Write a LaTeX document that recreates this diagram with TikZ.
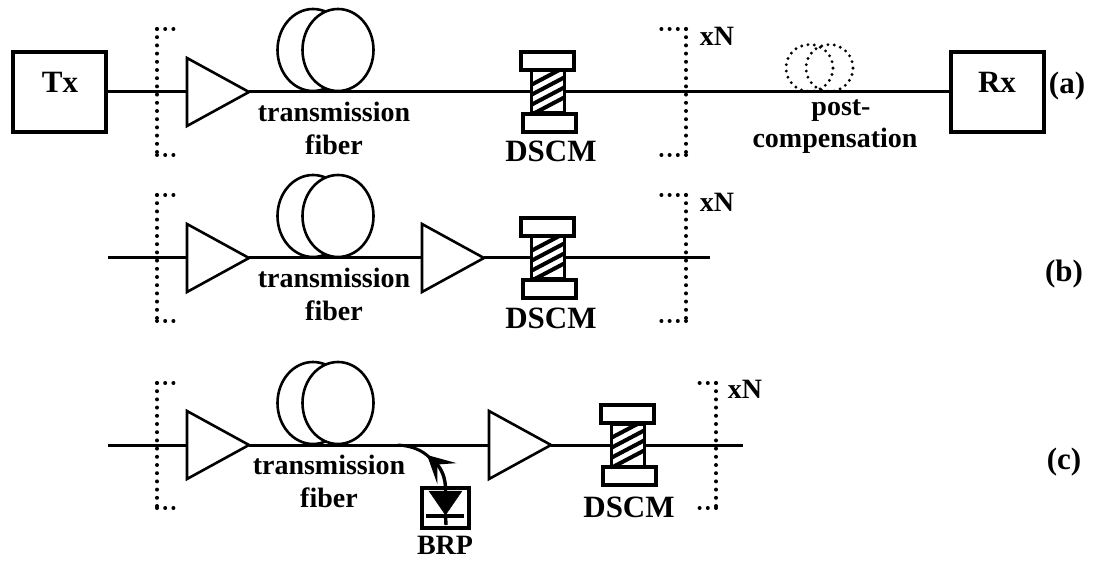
\documentclass[tikz,border=0pt]{standalone}
\usepackage{fontspec}
\setmainfont{Liberation Serif}
\usetikzlibrary{shapes.geometric,arrows.meta}
\tikzset{
  wire/.style={line width=3pt},
  termbox/.style={draw,line width=4pt,minimum width=93pt,minimum height=80pt,inner sep=0pt},
  ampshape/.style={draw,line width=2.6pt,fill=white,isosceles triangle,isosceles triangle stretches,shape border rotate=0,minimum width=68pt,minimum height=62pt,inner sep=0pt,outer sep=0pt,anchor=lower side},
  coil/.style={draw,line width=2.6pt,ellipse,minimum width=71pt,minimum height=82pt,inner sep=0pt,outer sep=0pt},
  dotcoil/.style={draw,line width=3.2pt,dash pattern=on 0pt off 6.4pt,line cap=round,circle,minimum size=47pt,inner sep=0pt,outer sep=0pt},
  bracketline/.style={line width=4pt,line cap=round,dash pattern=on 0pt off 8.2pt},
  capbox/.style={draw,line width=4pt,fill=white,minimum width=53pt,minimum height=18pt,inner sep=0pt},
  neckbox/.style={draw,line width=3pt,fill=white,minimum width=33pt,minimum height=42pt,inner sep=0pt,outer sep=0pt},
  lab/.style={font=\bfseries\fontsize{28}{28}\selectfont,inner sep=0pt,anchor=base},
  biglab/.style={font=\bfseries\fontsize{31}{31}\selectfont,inner sep=0pt,anchor=base},
}
\newcommand{\ampat}[3]{\node[ampshape] (#1) at (#2,#3) {};}
\newcommand{\fiberat}[3]{%
  \node[coil,fill=white] (#1l) at (#2-25,#3-42) {};
  \node[coil,fill=white] (#1r) at (#2,#3-42) {};}
\newcommand{\dscmat}[3]{%
  \node[neckbox] (#1) at (#2,#3) {};
  \begin{scope}
    \clip (#2-15,#3-20) rectangle (#2+16,#3+21);
    \foreach \s in {-16,-6,4,14} \draw[line width=4pt] (#2-18,#3+\s+9.5) -- (#2+18,#3+\s-9.5);
  \end{scope}
  \draw[line width=3pt] (#2-17,#3+24) -- (#2-17,#3-20);
  \node[capbox] (#1t) at (#2-1,#3-31) {};
  \node[capbox] (#1b) at (#2+1,#3+31) {};}
\newcommand{\bracketsat}[7]{%
  \coordinate (#1ba) at (#5,#2); \coordinate (#1bb) at (#4,#2);
  \coordinate (#1bc) at (#4,#3); \coordinate (#1bd) at (#5,#3);
  \coordinate (#1be) at (#6,#2); \coordinate (#1bf) at (#7,#2);
  \coordinate (#1bg) at (#7,#3); \coordinate (#1bh) at (#6,#3);
  \draw[bracketline] (#1bb) -- (#1ba);
  \draw[bracketline] (#1bb) -- (#1bc);
  \draw[bracketline] (#1bc) -- (#1bd);
  \draw[bracketline] (#1bf) -- (#1be);
  \draw[bracketline] (#1bf) -- (#1bg);
  \draw[bracketline] (#1bg) -- (#1bh);}
\begin{document}
\begin{tikzpicture}[x=1pt,y=-1pt]
\useasboundingbox (0,0) rectangle (1093,561);
% row a
\node[termbox] (tx) at (59.5,92) {};
\node[biglab] (txl) at (60,93) {Tx};
\node[termbox] (rx) at (997.5,92) {};
\node[biglab] (rxl) at (997,93) {Rx};
\bracketsat{a}{29}{155}{157}{174}{661}{686}
\ampat{a1}{187}{92}
\fiberat{fa}{338}{92}
\dscmat{da}{548}{92}
\draw[wire] (tx.east) -- (a1.lower side);
\draw[wire] (a1.apex) -- (da.west);
\draw[wire] (da.east) -- (rx.west);
\node[dotcoil] (pa) at (809.5,68) {};
\node[dotcoil] (pb) at (829.5,68) {};
\node[lab] (xa) at (717,46) {xN};
\node[lab] (ta) at (334,122) {transmission};
\node[lab] (fa) at (334,155) {fiber};
\node[biglab] (la) at (551,162) {DSCM};
\node[lab] (pl) at (841,116) {post-};
\node[lab] (cl) at (835,148) {compensation};
\node[biglab] (ra) at (1067,94) {(a)};
% row b
\coordinate (bstart) at (108,258);
\coordinate (bstop) at (710,258);
\bracketsat{b}{195}{321}{157}{174}{661}{686}
\ampat{b1}{187}{258}
\fiberat{fb}{338}{258}
\ampat{b2}{422}{258}
\dscmat{db}{548}{258}
\draw[wire] (bstart) -- (b1.lower side);
\draw[wire] (b1.apex) -- (b2.lower side);
\draw[wire] (b2.apex) -- (db.west);
\draw[wire] (db.east) -- (bstop);
\node[lab] (xb) at (717,212) {xN};
\node[lab] (tb) at (334,288) {transmission};
\node[lab] (fb) at (334,321) {fiber};
\node[biglab] (lb) at (551,329) {DSCM};
\node[biglab] (rb) at (1064,282) {(b)};
% row c
\coordinate (cstart) at (108,445);
\coordinate (cstop) at (743,445);
\bracketsat{c}{383}{508}{157}{174}{693}{716}
\ampat{c1}{187}{445}
\fiberat{fc}{338}{445}
\ampat{c2}{489}{445}
\dscmat{dc}{628}{445}
\draw[wire] (cstart) -- (c1.lower side);
\draw[wire] (c1.apex) -- (c2.lower side);
\draw[wire] (c2.apex) -- (dc.west);
\draw[wire] (dc.east) -- (cstop);
\node[lab] (xc) at (745,399) {xN};
\node[lab] (tc) at (329,474) {transmission};
\node[lab] (fc) at (329,507) {fiber};
\node[biglab] (lc) at (629,517) {DSCM};
\node[biglab] (rc) at (1064,469) {(c)};
\node[lab] (bl) at (445,554) {BRP};
% BRP
\node[draw,line width=4pt,minimum width=47pt,minimum height=40pt,inner sep=0pt] (brp) at (445.5,508) {};
\node[draw,fill=black,isosceles triangle,isosceles triangle stretches,shape border rotate=-90,minimum width=33pt,minimum height=24pt,inner sep=0pt,outer sep=0pt,anchor=apex] (diode) at (445.5,515) {};
\coordinate (bar1) at (426,516); \coordinate (bar2) at (464,516);
\coordinate (stemb) at (446,525);
\draw[line width=3.4pt] (bar1) -- (bar2);
\draw[line width=3.4pt] (diode.apex) -- (stemb);
\coordinate (tap) at (398,445);
\coordinate (tapb) at (430,458);
\coordinate (tipc) at (427,455);
\draw[line width=3pt] (tap) .. controls (412,446) and (422,450) .. (tapb);
\draw[line width=3.4pt,-{Stealth[length=27pt,width=28pt,inset=13pt]}] (diode.lower side) .. controls (446,478) and (441,468) .. (tipc);
\end{tikzpicture}
\end{document}
